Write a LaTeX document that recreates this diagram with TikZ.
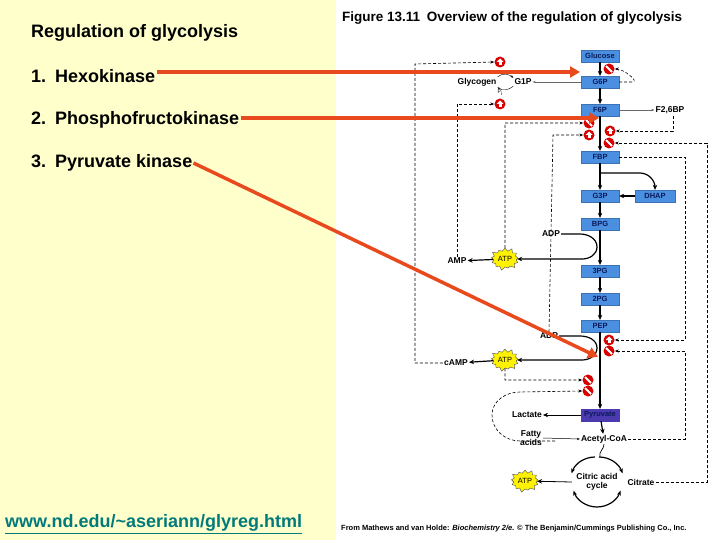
\documentclass[tikz,border=0pt]{standalone}
\usepackage{fontspec}
\setmainfont{Liberation Sans}
\usetikzlibrary{shapes.symbols,arrows.meta}
\definecolor{pale}{HTML}{FFFFCC}
\definecolor{boxb}{HTML}{4A8FE0}
\definecolor{navy}{HTML}{0A1A5A}
\definecolor{purp}{HTML}{4B3AB0}
\definecolor{rarrow}{HTML}{E84A1E}
\definecolor{link}{HTML}{007A7A}
\begin{document}
\begin{tikzpicture}[x=1pt,y=-1pt,
  box/.style={fill=boxb,draw=boxb!80!black,line width=0.3pt,minimum width=38pt,minimum height=12pt,inner sep=0pt,font=\fontsize{7.5}{8}\selectfont\bfseries,text=navy},
  lbl/.style={font=\fontsize{8.5}{9}\selectfont\bfseries,inner sep=1pt},
  flow/.style={-{Stealth[length=5pt,width=4.5pt]},line width=1.2pt},
  dsh/.style={densely dashed,line width=0.6pt,-{Stealth[length=4pt,width=3pt]}},
  star/.style={starburst,starburst points=13,starburst point height=4pt,fill=yellow,draw=black!70,line width=0.4pt,inner sep=1pt,font=\fontsize{7.5}{8}\selectfont,minimum width=28pt,minimum height=24pt},
  act/.style={circle,fill=red!85!black,minimum size=11pt,inner sep=0pt,
    path picture={\fill[white] ([xshift=-1.5pt,yshift=-3pt]path picture bounding box.center) rectangle ([xshift=1.5pt,yshift=0.5pt]path picture bounding box.center);
      \fill[white] ([xshift=-3.5pt,yshift=0pt]path picture bounding box.center) -- ([yshift=3.5pt]path picture bounding box.center) -- ([xshift=3.5pt]path picture bounding box.center) -- cycle;}},
  inh/.style={circle,fill=red!85!black,minimum size=11pt,inner sep=0pt,
    path picture={\draw[white,line width=2pt] ([xshift=-3pt,yshift=3pt]path picture bounding box.center) -- ([xshift=3pt,yshift=-3pt]path picture bounding box.center);}},
  rarr/.style={rarrow,line width=3.5pt,-{Triangle[length=10pt,width=11pt]}},
  ltxt/.style={anchor=west,font=\fontsize{18}{20}\selectfont\bfseries,inner sep=0pt}]
\useasboundingbox (0,0) rectangle (720,540);
\fill[pale] (0,0) rectangle (336,540);
\fill[white] (336,0) rectangle (720,540);
% left text
\node[ltxt] (title) at (31,33) {Regulation of glycolysis};
\node[ltxt] (t1) at (31,76) {1.\enspace Hexokinase};
\node[ltxt] (t2) at (31,120) {2.\enspace Phosphofructokinase};
\node[ltxt] (t3) at (31,163) {3.\enspace Pyruvate kinase};
\node[anchor=west,inner sep=0pt,text=link,font=\fontsize{18}{20}\selectfont\bfseries] (url) at (5,524) {\underline{www.nd.edu/\textasciitilde aseriann/glyreg.html}};
% figure heading
\node[anchor=west,inner sep=0pt,font=\fontsize{13.5}{15}\selectfont\bfseries] (fig) at (342,18) {Figure 13.11\enspace Overview of the regulation of glycolysis};
\node[anchor=west,inner sep=0pt,font=\fontsize{7.5}{8}\selectfont\bfseries] (src) at (341,529) {From Mathews and van Holde: \textit{Biochemistry 2/e.} © The Benjamin/Cummings Publishing Co., Inc.};
% boxes
\node[box] (glc) at (600,56) {Glucose};
\node[box] (g6p) at (600,82) {G6P};
\node[box] (f6p) at (600,110) {F6P};
\node[box] (fbp) at (600,157) {FBP};
\node[box] (g3p) at (600,196) {G3P};
\node[box,minimum width=40pt] (dhap) at (655,196) {DHAP};
\node[box] (bpg) at (600,224) {BPG};
\node[box] (p3g) at (600,271) {3PG};
\node[box] (p2g) at (600,299) {2PG};
\node[box] (pep) at (600,326) {PEP};
\node[box,fill=purp,draw=purp] (pyr) at (600,415) {Pyruvate};
\node[lbl] (acoa) at (604,439) {Acetyl-CoA};
\node[lbl,align=center] (fa) at (531,438) {Fatty\\acids};
\node[lbl] (lac) at (527,415) {Lactate};
\node[lbl] (glyc) at (477,82) {Glycogen};
\node[lbl] (g1p) at (523,82) {G1P};
\node[lbl] (f26) at (670,110) {F2,6BP};
\node[lbl] (amp) at (457,261) {AMP};
\node[lbl] (camp) at (456,363) {cAMP};
\node[lbl] (adp1) at (551,234) {ADP};
\node[lbl] (adp2) at (549,336) {ADP};
\node[star] (atp1) at (505,259) {ATP};
\node[star] (atp2) at (505,360) {ATP};
\node[star] (atp3) at (525,481) {ATP};
\node[circle,minimum size=50pt,inner sep=0pt,align=center,font=\fontsize{8.5}{9}\selectfont\bfseries] (tca) at (597,482) {Citric acid\\cycle};
\node[lbl] (cit) at (641,482) {Citrate};
% regulators
\node[act] (a1) at (500,62) {};
\node[act] (a2) at (500,104) {};
\node[inh] (i1) at (609,69) {};
\node[inh] (i2) at (589,123) {};
\node[act] (a3) at (589,135) {};
\node[act] (a4) at (610,131) {};
\node[inh] (i3) at (609,143) {};
\node[act] (a5) at (609,340) {};
\node[inh] (i4) at (609,351) {};
\node[inh] (i5) at (588,380) {};
\node[inh] (i6) at (588,391) {};
% main flow
\draw[flow] (glc) -- (g6p);
\draw[flow] (g6p) -- (f6p);
\draw[flow] (f6p) -- (fbp);
\draw[flow] (fbp) -- (g3p);
\coordinate (fb1) at (600,173);
\draw[flow] (fb1) -- (640,173) to[out=0,in=90] (dhap.north);
\draw[flow] (dhap) -- (g3p);
\draw[flow] (g3p) -- (bpg);
\draw[flow] (bpg) -- (p3g);
\coordinate (m1) at (582,259);
\draw[line width=1.2pt] (adp1.east) -- (580,234) to[out=0,in=90] (597,247) to[out=-90,in=0] (m1);
\draw[flow] (m1) -- (atp1);
\draw[flow] (atp1) -- (amp);
\draw[flow] (p3g) -- (p2g);
\draw[flow] (p2g) -- (pep);
\draw[flow] (pep) -- (pyr);
\coordinate (m2) at (582,360);
\draw[line width=1.2pt] (adp2.east) -- (580,336) to[out=0,in=90] (597,348) to[out=-90,in=0] (m2);
\draw[flow] (m2) -- (atp2);
\draw[flow] (atp2) -- (camp);
\draw[flow,line width=0.7pt] (pyr) -- (lac);
\draw[flow] (pyr) -- (acoa);
\draw[-{Stealth[length=3pt]},line width=0.5pt] (fa.east) -- (acoa.west);
\draw[flow,line width=0.8pt] (tca.west) -- (atp3);
\draw[-{Stealth[length=5pt]},line width=1.2pt] (599,457) arc (-90:-20:25);
\draw[-{Stealth[length=5pt]},line width=1.2pt] (597,507) arc (90:20:25);
\draw[-{Stealth[length=5pt]},line width=1.2pt] (597,507) arc (90:160:25);
\draw[-{Stealth[length=5pt]},line width=1.2pt] (595,457) arc (-90:-160:25);
\draw[line width=0.7pt] (acoa.south) to[out=-90,in=110] (600,457);
\draw[-{Stealth[length=3pt]},line width=0.4pt,black!60] (g6p.west) -- (g1p.east);
\draw[-{Stealth[length=3pt]},line width=0.4pt] (glyc.north east) to[out=40,in=140] (g1p.north west);
\draw[-{Stealth[length=3pt]},line width=0.4pt] (g1p.south west) to[out=-140,in=-40] (glyc.south east);
\node[font=\fontsize{5}{6}\selectfont] (pi) at (500,93) {P\textsubscript{i}};
\draw[-{Stealth[length=3pt]},line width=0.4pt,black!60] (f6p.east) -- (f26.west);
% dashed regulation
\draw[dsh] (camp.west) -- (415,363) -- (415,64) -- (a1.west);
\draw[dsh] (amp.north) -- (457,104) -- (a2.west);
\draw[dsh] (atp1.north) -- (505,123) -- (i2.west);
\draw[dsh] (adp2.north) -- (553,135) -- (a3.west);
\draw[dsh] (g6p.east) -- (632,82) to[out=0,in=0] (i1.east);
\draw[dsh] (673,116) -- (673,131) -- (a4.east);
\draw[dsh] (fbp.east) -- (685,157) -- (685,340) -- (a5.east);
\draw[dsh] (cit.east) -- (707,482) -- (707,143) -- (i3.east);
\draw[dsh] (acoa.east) -- (685,439) -- (685,351) -- (i4.east);
\draw[dsh] (atp2.south) -- (505,380) -- (i5.west);
\draw[dsh] (555,441) -- (520,441) to[out=180,in=-90] (492,415) to[out=90,in=180] (520,392) -- (i6.west);
% red arrows
\draw[rarr] (t1.east) ++(2,-4) -- (580,72);
\draw[rarr] (t2.east) ++(2,-2) -- (599,118);
\draw[rarr] (t3.east) ++(1,0) -- (598,357);
\end{tikzpicture}
\end{document}
